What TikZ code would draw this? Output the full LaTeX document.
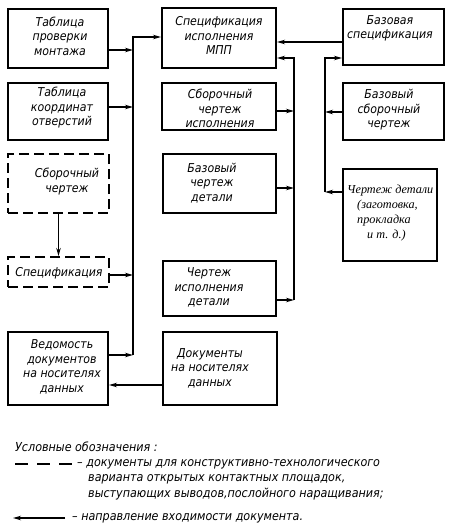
\documentclass[tikz,border=0pt]{standalone}
\usepackage{fontspec}
\setmainfont{DejaVu Sans Condensed}
\newfontfamily\serifitfont{Liberation Serif}
\usetikzlibrary{arrows.meta}
\newcommand\gostfont{\fontsize{12.2}{14.5}\selectfont\itshape}
\newcommand\legfont{\fontsize{12.4}{15}\selectfont\itshape}
\begin{document}
\begin{tikzpicture}[x=1pt,y=-1pt,
  box/.style={draw, line width=2pt, rectangle, inner sep=0pt},
  dbox/.style={box, dash pattern=on 10pt off 5pt},
  txt/.style={font=\gostfont, align=center, inner sep=0pt},
  ltxt/.style={font=\legfont, align=left, inner sep=0pt, anchor=west},
  arr/.style={-{Stealth[length=8pt,width=4.5pt]}, line width=1.8pt},
]
\useasboundingbox (0,0) rectangle (448,532);

% left column
\node[box, minimum width=100pt, minimum height=59pt] (b1) at (58,38.5) {};
\node[box, minimum width=100pt, minimum height=57pt] (b2) at (58,111.5) {};
\node[dbox, minimum width=101pt, minimum height=59pt] (b3) at (58.5,183.5) {};
\node[dbox, minimum width=101pt, minimum height=30pt] (b4) at (58.5,272) {};
\node[box, minimum width=100pt, minimum height=73pt] (b5) at (58,368.5) {};
\node[txt] (t1) at (60,36) {Таблица\\проверки\\монтажа};
\node[txt] (t2) at (62,108) {Таблица\\координат\\отверстий};
\node[txt] (t3) at (67,181.5) {Сборочный\\чертеж};
\node[txt] (t4) at (59,273) {Спецификация};
\node[txt] (t5) at (62,367) {Ведомость\\документов\\на носителях\\данных};

% middle column
\node[box, minimum width=114pt, minimum height=60pt] (m1) at (219,38) {};
\node[box, minimum width=114pt, minimum height=47pt] (m2) at (219,106.5) {};
\node[box, minimum width=113pt, minimum height=59pt] (m3) at (219.5,183.5) {};
\node[box, minimum width=113pt, minimum height=55pt] (m4) at (219.5,288.5) {};
\node[box, minimum width=114pt, minimum height=73pt] (m5) at (220,368.5) {};
\node[txt] (tm1) at (219,35.5) {Спецификация\\исполнения\\МПП};
\node[txt] (tm2) at (220,108.5) {Сборочный\\чертеж\\исполнения};
\node[txt] (tm3) at (212,183) {Базовый\\чертеж\\детали};
\node[txt] (tm4) at (209,287.5) {Чертеж\\исполнения\\детали};
\node[txt] (tm5) at (210,368) {Документы\\на носителях\\данных};

% right column
\node[box, minimum width=101pt, minimum height=56pt] (r1) at (393.5,37) {};
\node[box, minimum width=101pt, minimum height=57pt] (r2) at (393.5,111.5) {};
\node[box, minimum width=94pt, minimum height=92pt] (r3) at (390,215) {};
\node[txt] (tr1) at (390,28.5) {Базовая\\спецификация};
\node[txt] (tr2) at (389,110) {Базовый\\сборочный\\чертеж};
\node[font=\serifitfont\itshape\fontsize{12.2}{14.8}\selectfont, align=left, inner sep=0pt, anchor=west] (tr3) at (347,213)
  {Чертеж детали\\\hspace*{10pt}(заготовка,\\\hspace*{10pt}прокладка\\\hspace*{20pt}и т. д.)};

% buses
\coordinate (busLT) at (133,37);
\coordinate (busLB) at (133,355);
\coordinate (busMT) at (294,58);
\coordinate (busMB) at (294,300);
\coordinate (busRT) at (325,58);
\coordinate (busRB) at (325,192);

\draw[arr] (busLB) -- (busLT) -- (busLT -| m1.west);
\draw[arr] (b1.east |- 0,50) -- (busLT |- 0,50);
\draw[arr] (b2.east |- 0,107) -- (busLT |- 0,107);
\draw[arr] (b4.east |- 0,275) -- (busLT |- 0,275);
\draw[arr] (b5.east |- 0,355) -- (busLB);
\draw[arr] (b3.south) -- (b4.north);
\draw[arr] (m5.west |- 0,385) -- (b5.east |- 0,385);

\draw[arr] (busMB) -- (busMT) -- (busMT -| m1.east);
\draw[arr] (m2.east |- 0,111) -- (busMT |- 0,111);
\draw[arr] (m3.east |- 0,188) -- (busMT |- 0,188);
\draw[arr] (m4.east |- 0,300) -- (busMB);
\draw[arr] (r1.west |- 0,42) -- (m1.east |- 0,42);

\draw[arr] (busRB) -- (busRT) -- (busRT -| r1.west);
\draw[arr] (r2.west |- 0,112) -- (busRT |- 0,112);
\draw[arr] (r3.west |- 0,192) -- (busRB);

% legend
\node[ltxt] (lg0) at (15,447) {Условные обозначения :};
\coordinate (ld1) at (15,464);
\coordinate (ld2) at (72,464);
\draw[line width=1.8pt, dash pattern=on 13pt off 9pt] (ld1) -- (ld2);
\node[ltxt] (lg1) at (77,464) {– документы для конструктивно-технологического};
\node[ltxt] (lg2) at (88,479) {варианта открытых контактных площадок,};
\node[ltxt] (lg3) at (88,494) {выступающих выводов,послойного наращивания;};
\coordinate (la1) at (65,518);
\coordinate (la2) at (13,518);
\draw[arr] (la1) -- (la2);
\node[ltxt] (lg4) at (72,518) {– направление входимости документа.};
\end{tikzpicture}
\end{document}
